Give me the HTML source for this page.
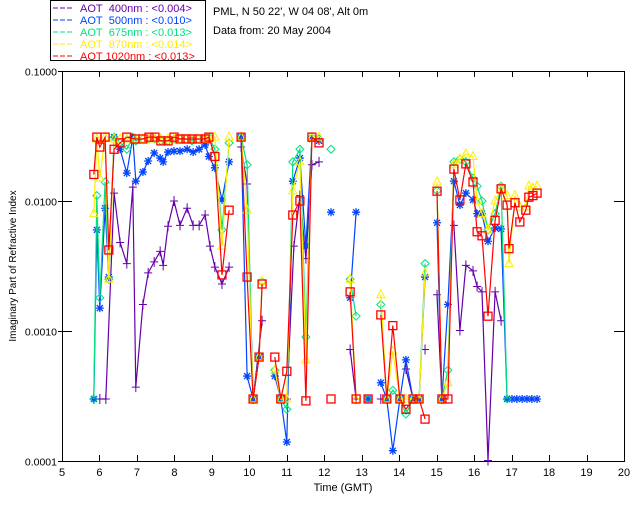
<!DOCTYPE html>
<html><head><meta charset="utf-8"><style>
html,body{margin:0;padding:0;background:#fff;}
svg{display:block;font-family:"Liberation Sans",sans-serif;}
</style></head><body>
<svg id="chart" width="640" height="512" viewBox="0 0 640 512" xmlns="http://www.w3.org/2000/svg">
<rect x="0" y="0" width="640" height="512" fill="#fff"/>
<g>
<rect x="50.5" y="0.5" width="155" height="60" fill="#fff" stroke="#000"/>
<g font-size="11">
<line x1="53" y1="8" x2="74" y2="8" stroke="#6600aa" stroke-dasharray="5,2"/><text x="80" y="12" fill="#6600aa">AOT&#160;&#160;400nm : &lt;0.004&gt;</text>
<line x1="53" y1="20" x2="74" y2="20" stroke="#0044ff" stroke-dasharray="5,2"/><text x="80" y="24" fill="#0044ff">AOT&#160;&#160;500nm : &lt;0.010&gt;</text>
<line x1="53" y1="32" x2="74" y2="32" stroke="#00e080" stroke-dasharray="5,2"/><text x="80" y="36" fill="#00e080">AOT&#160;&#160;675nm : &lt;0.013&gt;</text>
<line x1="53" y1="44" x2="74" y2="44" stroke="#ffee00" stroke-dasharray="5,2"/><text x="80" y="48" fill="#ffee00">AOT&#160;&#160;870nm : &lt;0.014&gt;</text>
<line x1="53" y1="56" x2="74" y2="56" stroke="#ff0000" stroke-dasharray="5,2"/><text x="80" y="60" fill="#ff0000">AOT 1020nm : &lt;0.013&gt;</text>
</g></g>
<text x="213" y="15" font-size="11">PML, N 50 22', W 04 08', Alt 0m</text>
<text x="213" y="34" font-size="11">Data from: 20 May 2004</text>
<text x="343" y="491" font-size="11" text-anchor="middle">Time (GMT)</text>
<text transform="translate(16,266) rotate(-90)" font-size="10" text-anchor="middle">Imaginary Part of Refractive Index</text>
<g id="axes"></g>
<g id="series"></g>
</svg>
<script>
const xTicks=[5,6,7,8,9,10,11,12,13,14,15,16,17,18,19,20];
const yTicks=[0.1,0.01,0.001,0.0001];
const yTickLabels=["0.1000","0.0100","0.0010","0.0001"];
const purple=[[5.85,0.0003],[6.01,0.0003],[6.17,0.0003],[6.39,0.0115],[6.55,0.0048],[6.73,0.0033],[6.89,0.0128],[6.97,0.00037],[7.16,0.0016],[7.30,0.0028],[7.46,0.0034],[7.62,0.0041],[7.70,0.0032],[7.83,0.0064],[7.99,0.010],[8.15,0.0065],[8.34,0.0088],[8.50,0.0065],[8.66,0.0065],[8.82,0.0078],[8.95,0.0045],[9.08,0.0031],[9.27,0.0023],[9.46,0.0031],[9.78,0.026],[9.94,0.0135],[10.10,0.0003],[10.34,0.0012],[11.00,0.0003],[11.19,0.0045],[11.35,0.011],[11.51,0.0036],[11.67,0.019],[11.86,0.020],[12.69,0.00072],[12.85,0.0003],[13.51,0.0003],[13.67,0.0003],[14.18,0.00051],[14.37,0.0003],[14.69,0.00072],[15.01,0.0019],[15.14,0.0003],[15.46,0.0065],[15.62,0.00101],[15.78,0.0032],[15.97,0.0029],[16.08,0.0022],[16.21,0.0020],[16.37,0.000101],[16.56,0.0020],[16.72,0.0012]];
const blue=[[5.85,0.0003],[5.93,0.006],[6.01,0.0015],[6.15,0.0088],[6.25,0.0026],[6.39,0.031],[6.55,0.025],[6.73,0.0164],[6.89,0.031],[6.97,0.0142],[7.16,0.0167],[7.30,0.0203],[7.46,0.0234],[7.62,0.0214],[7.70,0.020],[7.83,0.0238],[7.99,0.0242],[8.15,0.0242],[8.34,0.025],[8.50,0.0238],[8.66,0.025],[8.82,0.027],[8.92,0.022],[9.08,0.018],[9.27,0.0102],[9.46,0.020],[9.78,0.031],[9.94,0.00045],[10.10,0.0003],[10.26,0.00063],[10.68,0.00045],[10.84,0.0003],[11.00,0.00014],[11.16,0.0142],[11.35,0.0214],[11.51,0.0045],[11.67,0.030],[11.86,0.029],[12.18,0.0082],[12.69,0.0018],[12.85,0.0082],[13.17,0.0003],[13.51,0.0004],[13.67,0.0003],[13.83,0.00012],[14.02,0.0003],[14.18,0.0006],[14.37,0.0003],[14.53,0.0003],[14.69,0.0026],[15.01,0.0068],[15.14,0.0003],[15.30,0.0016],[15.46,0.0142],[15.62,0.0093],[15.78,0.0115],[15.97,0.0102],[16.08,0.008],[16.21,0.008],[16.37,0.0049],[16.56,0.0062],[16.72,0.0061],[16.88,0.0003],[17.01,0.0003],[17.14,0.0003],[17.28,0.0003],[17.41,0.0003],[17.54,0.0003],[17.68,0.0003]];
const green=[[5.85,0.0003],[5.93,0.011],[6.01,0.0018],[6.15,0.014],[6.25,0.0025],[6.39,0.031],[6.55,0.028],[6.73,0.025],[6.89,0.031],[6.97,0.029],[7.16,0.030],[7.32,0.030],[7.48,0.030],[7.64,0.029],[7.83,0.029],[7.99,0.030],[8.15,0.030],[8.31,0.030],[8.47,0.029],[8.63,0.030],[8.82,0.030],[8.92,0.031],[9.08,0.025],[9.27,0.006],[9.46,0.028],[9.78,0.031],[9.94,0.019],[10.10,0.0003],[10.26,0.00063],[10.34,0.0024],[10.68,0.0005],[10.84,0.0003],[11.00,0.00025],[11.16,0.02],[11.35,0.025],[11.51,0.0009],[11.67,0.031],[11.86,0.030],[12.18,0.025],[12.69,0.0025],[12.85,0.0013],[13.17,0.0003],[13.51,0.0016],[13.67,0.0003],[13.83,0.00035],[14.02,0.0003],[14.18,0.00023],[14.37,0.0003],[14.53,0.0003],[14.69,0.0033],[15.01,0.012],[15.14,0.0003],[15.30,0.0005],[15.46,0.020],[15.62,0.021],[15.78,0.020],[15.97,0.015],[16.08,0.013],[16.21,0.010],[16.37,0.006],[16.56,0.008],[16.72,0.013],[16.88,0.0003]];
const yellow=[[5.85,0.008],[5.93,0.030],[6.01,0.015],[6.15,0.031],[6.25,0.0025],[6.39,0.030],[6.55,0.030],[6.73,0.030],[6.95,0.030],[7.16,0.030],[7.32,0.030],[7.48,0.030],[7.64,0.030],[7.83,0.030],[7.99,0.030],[8.15,0.030],[8.31,0.030],[8.47,0.030],[8.63,0.030],[8.82,0.030],[8.92,0.030],[9.08,0.031],[9.27,0.0045],[9.46,0.031],[9.78,0.031],[9.94,0.0085],[10.10,0.0003],[10.26,0.00063],[10.34,0.0024],[10.68,0.0005],[10.84,0.0003],[11.00,0.0003],[11.16,0.012],[11.35,0.020],[11.51,0.0006],[11.67,0.031],[11.86,0.031],[12.69,0.0025],[12.85,0.0003],[13.51,0.0019],[13.67,0.0003],[13.83,0.0007],[14.02,0.0003],[14.18,0.0003],[14.37,0.0003],[14.53,0.0003],[14.69,0.0028],[15.01,0.014],[15.14,0.0003],[15.30,0.0004],[15.46,0.019],[15.62,0.021],[15.78,0.023],[15.97,0.022],[16.08,0.010],[16.21,0.008],[16.37,0.006],[16.56,0.010],[16.72,0.0125],[16.88,0.011],[16.93,0.0033],[17.09,0.011],[17.22,0.009],[17.38,0.009],[17.46,0.013],[17.57,0.0125],[17.68,0.013]];
const red=[[5.85,0.016],[5.93,0.031],[6.01,0.026],[6.15,0.031],[6.25,0.0042],[6.39,0.025],[6.55,0.028],[6.73,0.031],[6.95,0.030],[7.16,0.030],[7.32,0.031],[7.48,0.031],[7.64,0.029],[7.83,0.029],[7.99,0.031],[8.15,0.030],[8.31,0.030],[8.47,0.030],[8.63,0.030],[8.82,0.030],[8.92,0.031],[9.08,0.022],[9.27,0.0027],[9.46,0.0085],[9.78,0.031],[9.94,0.0026],[10.10,0.0003],[10.26,0.00063],[10.34,0.0023],[10.68,0.00063],[10.84,0.0003],[11.00,0.00049],[11.16,0.0078],[11.35,0.010],[11.51,0.00029],[11.67,0.031],[11.86,0.028],[12.18,0.0003],[12.69,0.0020],[12.85,0.0003],[13.17,0.0003],[13.51,0.00133],[13.67,0.0003],[13.83,0.0011],[14.02,0.0003],[14.18,0.00025],[14.37,0.0003],[14.53,0.0003],[14.69,0.00021],[15.01,0.0119],[15.14,0.0003],[15.30,0.0003],[15.46,0.0176],[15.62,0.0102],[15.78,0.0193],[15.97,0.014],[16.08,0.0058],[16.21,0.0054],[16.37,0.0013],[16.56,0.0071],[16.72,0.0124],[16.88,0.0093],[16.93,0.0043],[17.09,0.0097],[17.22,0.0069],[17.38,0.0085],[17.46,0.0107],[17.57,0.011],[17.68,0.0115]];

const X0=62,X1=624,Y0=71,Y1=461;
const xs=t=>X0+(t-5)*(X1-X0)/15;
const ys=v=>Y0+(-1-Math.log10(v))*(Y1-Y0)/3;
const NS="http://www.w3.org/2000/svg";
function mk(tag,attrs,parent){const e=document.createElementNS(NS,tag);for(const k in attrs)e.setAttribute(k,attrs[k]);parent.appendChild(e);return e;}
const axes=document.getElementById('axes');
const frame=mk('rect',{x:X0+0.5,y:Y0+0.5,width:X1-X0,height:Y1-Y0,fill:'none',stroke:'#000'},axes);


xTicks.forEach((t,i)=>{
  const x=Math.round(xs(t))+0.5;
  mk('line',{x1:x,y1:Y1,x2:x,y2:Y1-6,stroke:'#000'},axes);
  mk('line',{x1:x,y1:Y0,x2:x,y2:Y0+6,stroke:'#000'},axes);
  const tx=mk('text',{x:xs(t),y:Y1+15,'font-size':11,'text-anchor':'middle'},axes);
  tx.textContent=String(t);
  
  
});
yTicks.forEach((v,i)=>{
  const y=Math.round(ys(v))+0.5;
  mk('line',{x1:X0-4,y1:y,x2:X0+10,y2:y,stroke:'#000'},axes);
  mk('line',{x1:X1,y1:y,x2:X1-10,y2:y,stroke:'#000'},axes);
  const tx=mk('text',{x:X0-5,y:y+4,'font-size':10.5,'text-anchor':'end'},axes);
  tx.textContent=yTickLabels[i];
  
  
});
const sg=document.getElementById('series');
function marker(kind,x,y,col,g){
  if(kind==='plus'){mk('path',{d:`M${x-4} ${y}H${x+4}M${x} ${y-5}V${y+5}`,stroke:col,fill:'none'},g);}
  else if(kind==='star'){mk('path',{d:`M${x-4} ${y}H${x+4}M${x} ${y-4}V${y+4}M${x-3} ${y-3}L${x+3} ${y+3}M${x-3} ${y+3}L${x+3} ${y-3}`,stroke:col,fill:'none','stroke-width':1.3},g);}
  else if(kind==='diamond'){mk('path',{d:`M${x} ${y-4}L${x+4} ${y}L${x} ${y+4}L${x-4} ${y}Z`,stroke:col,fill:'none'},g);}
  else if(kind==='tri'){mk('path',{d:`M${x} ${y-5}L${x+4} ${y+3}L${x-4} ${y+3}Z`,stroke:col,fill:'none'},g);}
  else {mk('rect',{x:x-4,y:y-4,width:8,height:8,stroke:col,fill:'none','stroke-width':1.3},g);}
}
function draw(data,col,kind,name){
  const g=mk('g',{},sg);
  
  
  let d='';
  data.forEach((p,i)=>{const x=xs(p[0]),y=ys(p[1]);
    d+=(i===0||p[0]-data[i-1][0]>0.3?'M':'L')+x.toFixed(1)+' '+y.toFixed(1);});
  const path=mk('path',{d:d,stroke:col,fill:'none','stroke-width':1.2},g);
  
  
  data.forEach(p=>marker(kind,xs(p[0]),ys(p[1]),col,g));
}
draw(purple,'#6600aa','plus','series-400nm');
draw(blue,'#0044ff','star','series-500nm');
draw(green,'#00e080','diamond','series-675nm');
draw(yellow,'#ffee00','tri','series-870nm');
draw(red,'#ff0000','square','series-1020nm');
</script>
</body></html>
